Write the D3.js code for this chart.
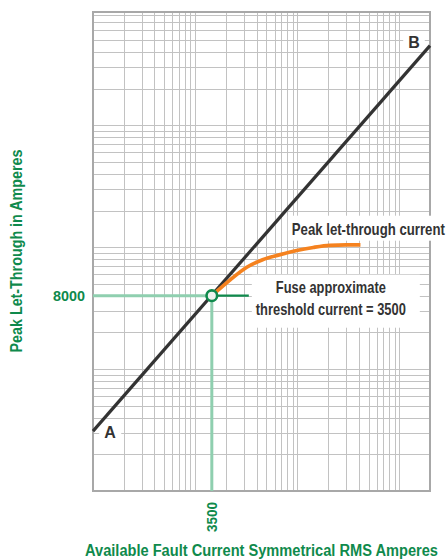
<!DOCTYPE html>
<html>
<head>
<meta charset="utf-8">
<script src="https://cdn.jsdelivr.net/npm/d3@7"></script>
<style>
  html, body { margin: 0; padding: 0; background: #ffffff; }
  svg { display: block; }
  text { font-family: 'Liberation Sans', Arial, Helvetica, sans-serif; font-weight: bold; }
</style>
</head>
<body>
<svg id="chart" width="447" height="560"></svg>
<script>
// Log-log grid extents (available current, peak let-through)
const currentDomain = [240, 480000];
const peakDomain = [200, 1700000];

// Fuse threshold point
const thresholdCurrent = [3500];
const thresholdPeak = [8000];

// Line A-B: peak current without a current-limiting fuse
const lineABCurrent = [240, 480000];
const lineABPeak = [620, 900000];
const lineABLabels = ["A", "B"];

// Peak let-through curve of the fuse
const letThroughCurrent = [3500, 5300, 7700, 11000, 16000, 23700, 34500, 50000, 73000, 100000];
const letThroughPeak = [8000, 10800, 13700, 15800, 17300, 18800, 19900, 20700, 20900, 20900];

// Axis tick labels
const xTickValues = [3500];
const yTickValues = [8000];

const xTitle = "Available Fault Current Symmetrical RMS Amperes";
const yTitle = "Peak Let-Through in Amperes";
const curveLabel = "Peak let-through current";
const thresholdLabel = ["Fuse approximate", "threshold current = 3500"];

const green = "#0f8a4c";
const lightGreen = "#8fcfaf";
const orange = "#f5821f";
const ink = "#333333";
const gridColor = "#c2c2c2";
const frameColor = "#a8a8a8";

const svg = d3.select("#chart");

const x = d3.scaleLog().domain(currentDomain).range([93, 430]);
const y = d3.scaleLog().domain(peakDomain).range([491, 12]);

// Condensed look: squeeze a bold sans text to a set width
function squeeze(sel, width) {
  sel.attr("textLength", width).attr("lengthAdjust", "spacingAndGlyphs");
  return sel;
}

// Gridlines at 1..9 times each decade of the domain start
function logGrid(domain) {
  const vals = [];
  for (let n = 0; n < 8; n++) {
    for (let k = 1; k <= 9; k++) {
      const v = domain[0] * k * Math.pow(10, n);
      if (v > domain[0] * 1.0001 && v < domain[1] * 0.9999) vals.push(v);
    }
  }
  return vals;
}

const grid = svg.append("g").attr("stroke", gridColor).attr("stroke-width", 1).attr("shape-rendering", "crispEdges");
grid.selectAll("line.v").data(logGrid(currentDomain)).join("line")
  .attr("class", "v")
  .attr("x1", d => Math.round(x(d)) + 0.5).attr("x2", d => Math.round(x(d)) + 0.5)
  .attr("y1", y.range()[0]).attr("y2", y.range()[1]);
grid.selectAll("line.h").data(logGrid(peakDomain)).join("line")
  .attr("class", "h")
  .attr("y1", d => Math.round(y(d)) + 0.5).attr("y2", d => Math.round(y(d)) + 0.5)
  .attr("x1", x.range()[0]).attr("x2", x.range()[1]);

// Frame
svg.append("rect")
  .attr("x", x.range()[0]).attr("y", y.range()[1])
  .attr("width", x.range()[1] - x.range()[0])
  .attr("height", y.range()[0] - y.range()[1])
  .attr("fill", "none").attr("stroke", frameColor).attr("stroke-width", 2);

const tx = x(thresholdCurrent[0]);
const ty = y(thresholdPeak[0]);

// Light green guides from the axes to the threshold point
svg.append("line")
  .attr("x1", x.range()[0]).attr("x2", tx)
  .attr("y1", ty).attr("y2", ty)
  .attr("stroke", lightGreen).attr("stroke-width", 3);
svg.append("line")
  .attr("x1", tx).attr("x2", tx)
  .attr("y1", ty).attr("y2", y.range()[0])
  .attr("stroke", lightGreen).attr("stroke-width", 3);

// Text with a white backing box
function boxedText(g, lines, opts) {
  const grp = g.append("g");
  const rect = grp.append("rect").attr("fill", "#ffffff");
  const t = grp.append("text")
    .attr("font-size", opts.size)
    .attr("fill", opts.color || ink)
    .attr("text-anchor", opts.anchor || "start");
  lines.forEach((s, i) => {
    const ts = t.append("tspan").attr("x", opts.x).attr("y", opts.y + i * (opts.lineHeight || 0)).text(s);
    if (opts.widths) squeeze(ts, opts.widths[i]);
  });
  const bb = t.node().getBBox();
  const p = opts.pad;
  const box = {x: bb.x - p[3], y: bb.y - p[0], w: bb.width + p[1] + p[3], h: bb.height + p[0] + p[2]};
  rect.attr("x", box.x).attr("y", box.y).attr("width", box.w).attr("height", box.h);
  return {group: grp, box: box};
}

const labels = svg.append("g");

// A / B end labels
boxedText(labels, [lineABLabels[0]], {
  x: x(lineABCurrent[0]) + 17, y: y(lineABPeak[0]) + 7, size: 16, anchor: "middle",
  pad: [1, 5, 0, 5]
});
boxedText(labels, [lineABLabels[1]], {
  x: x(lineABCurrent[1]) - 16, y: y(lineABPeak[1]) + 2, size: 16, anchor: "middle",
  pad: [1, 5, 0, 5]
});

// Curve label
boxedText(labels, [curveLabel], {
  x: tx + 80, y: ty - 61, size: 17, anchor: "start", pad: [4, 4, 2, 4], widths: [153]
});

// Threshold label
const thr = boxedText(labels, thresholdLabel, {
  x: tx + 119, y: ty - 3, size: 17, anchor: "middle", lineHeight: 22,
  pad: [3, 14, 9, 4], widths: [110, 150]
});

// Dark green leader from the threshold point to its label
svg.append("line")
  .attr("x1", tx).attr("x2", thr.box.x - 3)
  .attr("y1", ty).attr("y2", ty)
  .attr("stroke", green).attr("stroke-width", 2.2);

// Line A-B
svg.append("path")
  .datum(d3.zip(lineABCurrent, lineABPeak))
  .attr("d", d3.line().x(d => x(d[0])).y(d => y(d[1])))
  .attr("fill", "none").attr("stroke", ink).attr("stroke-width", 3.2);

// Peak let-through curve
svg.append("path")
  .datum(d3.zip(letThroughCurrent, letThroughPeak))
  .attr("d", d3.line().x(d => x(d[0])).y(d => y(d[1])).curve(d3.curveMonotoneX))
  .attr("fill", "none").attr("stroke", orange).attr("stroke-width", 3.7)
  .attr("stroke-linecap", "butt");

// Threshold marker
svg.append("circle")
  .attr("cx", tx).attr("cy", ty).attr("r", 5.3)
  .attr("fill", "#eef3ef").attr("stroke", green).attr("stroke-width", 2.6);

// Tick labels
svg.selectAll("text.ytick").data(yTickValues).join("text")
  .attr("class", "ytick")
  .attr("x", x.range()[0] - 8).attr("y", d => y(d) + 5.5)
  .attr("text-anchor", "end").attr("font-size", 15.5).attr("fill", green)
  .text(d => d)
  .call(squeeze, 32);
svg.selectAll("text.xtick").data(xTickValues).join("text")
  .attr("class", "xtick")
  .attr("transform", d => `translate(${x(d)},${y.range()[0] + 11}) rotate(-90)`)
  .attr("dy", "0.35em")
  .attr("text-anchor", "end").attr("font-size", 15.5).attr("fill", green)
  .text(d => d)
  .call(squeeze, 30);

// Axis titles
svg.append("text")
  .attr("x", 261.5).attr("y", 556)
  .attr("text-anchor", "middle").attr("font-size", 16).attr("fill", green)
  .text(xTitle)
  .call(squeeze, 353);
svg.append("text")
  .attr("transform", "translate(16.5,251) rotate(-90)")
  .attr("dy", "0.35em")
  .attr("text-anchor", "middle").attr("font-size", 16).attr("fill", green)
  .text(yTitle)
  .call(squeeze, 203);
</script>
</body>
</html>
